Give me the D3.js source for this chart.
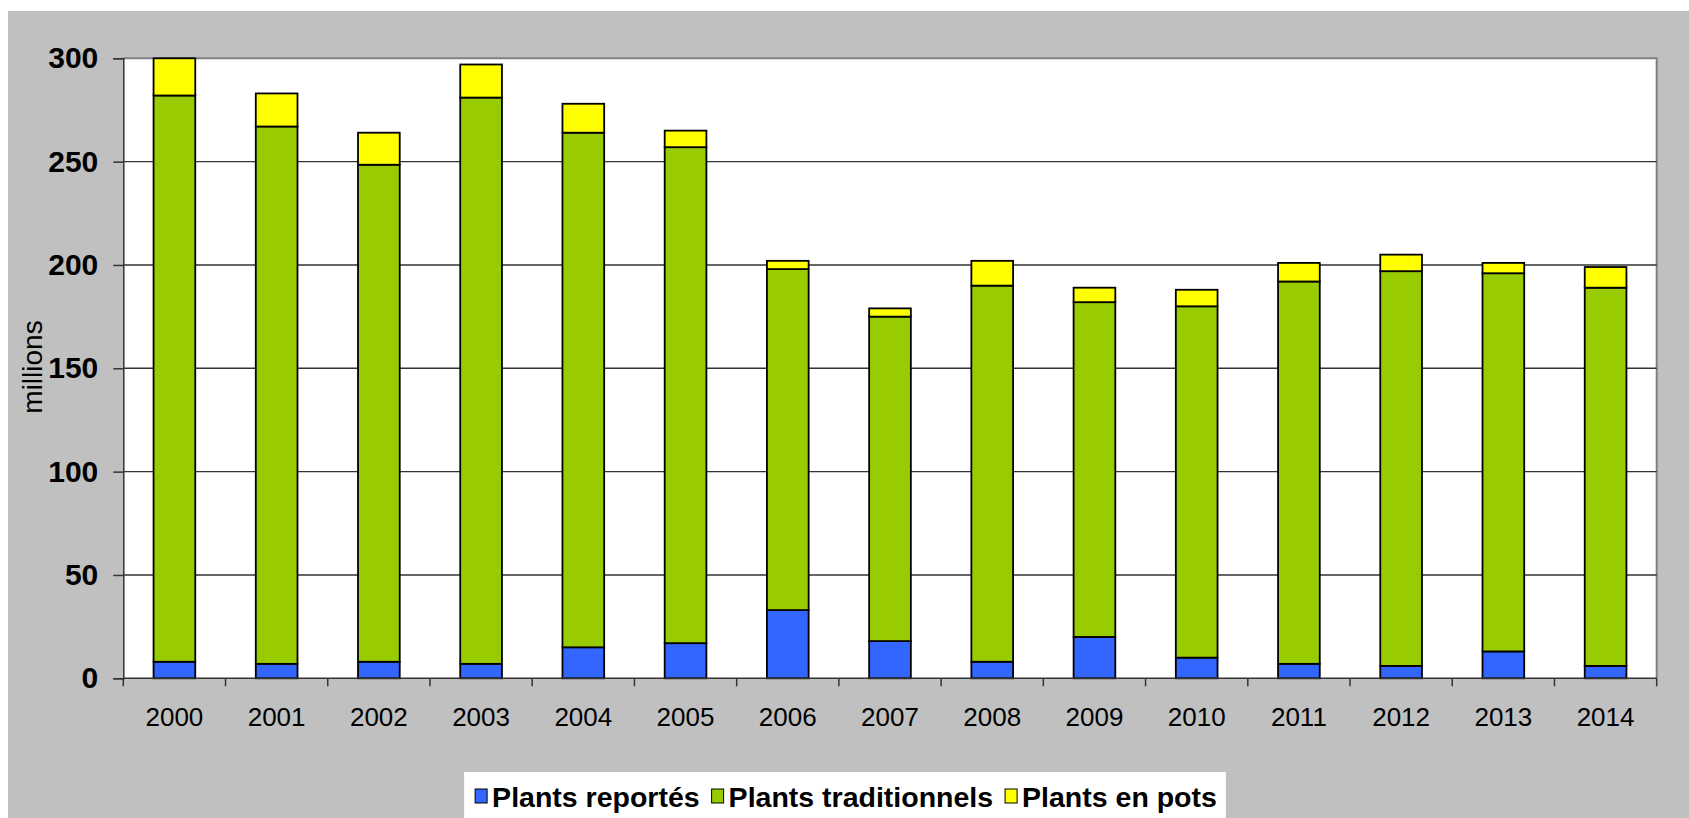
<!DOCTYPE html>
<html>
<head>
<meta charset="utf-8">
<script src="https://cdn.jsdelivr.net/npm/d3@7"></script>
<style>
  body { margin: 0; background: #fff; }
  svg { display: block; font-family: 'Liberation Sans', Arial, sans-serif; }
</style>
</head>
<body>
<svg class="chart"></svg>
<script>
const years = ['2000', '2001', '2002', '2003', '2004', '2005', '2006', '2007',
  '2008', '2009', '2010', '2011', '2012', '2013', '2014'];
const plantsReportes = [8, 7, 8, 7, 15, 17, 33, 18, 8, 20, 10, 7, 6, 13, 6];
const plantsTraditionnels = [274, 260, 240.5, 274, 249, 240, 165, 157, 182, 162, 170, 185, 191, 183, 183];
const plantsEnPots = [18, 16, 15.5, 16, 14, 8, 4, 4, 12, 7, 8, 9, 8, 5, 10];
const seriesNames = ['Plants reportés', 'Plants traditionnels', 'Plants en pots'];
const seriesColors = ['#3366ff', '#99cc00', '#ffff00'];
const yTicks = [0, 50, 100, 150, 200, 250, 300];
const yLabel = 'millions';

const startApp = () => {
  const viewBox = { width: 1689, height: 818 };
  const plot = { left: 123.3, top: 58.3, right: 1656.7, bottom: 678.3 };

  const rows = years.map((year, i) => ({
    year, s0: plantsReportes[i], s1: plantsTraditionnels[i], s2: plantsEnPots[i],
  }));
  const stacked = d3.stack().keys(['s0', 's1', 's2'])(rows);

  const xScale = d3.scaleBand()
    .domain(years)
    .range([plot.left, plot.right])
    .paddingInner(0.592)
    .paddingOuter(0.296);
  const yScale = d3.scaleLinear().domain([0, 300]).range([plot.bottom, plot.top]);

  const svg = d3.select('.chart')
    .attr('width', viewBox.width)
    .attr('height', viewBox.height);

  // grey chart area with the white plot inside
  svg.append('rect')
    .attr('x', 8).attr('y', 11)
    .attr('width', viewBox.width - 8).attr('height', viewBox.height - 11)
    .attr('fill', '#c0c0c0');
  svg.append('rect')
    .attr('x', plot.left).attr('y', plot.top)
    .attr('width', plot.right - plot.left).attr('height', plot.bottom - plot.top)
    .attr('fill', '#fff');
  svg.append('path')
    .attr('d', `M${plot.left},${plot.top}H${plot.right}V${plot.bottom}`)
    .attr('fill', 'none')
    .attr('stroke', '#808080')
    .attr('stroke-width', 2);

  // gridlines
  svg.append('g')
    .selectAll('line')
    .data(yTicks.filter(t => t > 0 && t < 300))
    .join('line')
    .attr('x1', plot.left).attr('x2', plot.right)
    .attr('y1', d => yScale(d)).attr('y2', d => yScale(d))
    .attr('stroke', '#333')
    .attr('stroke-width', 1.4);

  // y axis
  const yAxis = d3.axisLeft(yScale).tickValues(yTicks).tickSize(10).tickPadding(15);
  const yAxisG = svg.append('g')
    .attr('transform', `translate(${plot.left}, 0)`)
    .call(yAxis);
  yAxisG.select('.domain').attr('stroke', '#333').attr('stroke-width', 1.5);
  yAxisG.selectAll('.tick line').attr('stroke', '#333').attr('stroke-width', 1.5);
  yAxisG.selectAll('.tick text')
    .attr('font-family', "'Liberation Sans', Arial, sans-serif")
    .attr('font-size', 30)
    .attr('font-weight', 'bold')
    .attr('fill', '#000');

  // bars
  svg.append('g')
    .selectAll('g')
    .data(stacked)
    .join('g')
    .attr('fill', (d, i) => seriesColors[i])
    .selectAll('rect')
    .data(d => d)
    .join('rect')
    .attr('x', d => xScale(d.data.year))
    .attr('y', d => yScale(d[1]))
    .attr('width', xScale.bandwidth())
    .attr('height', d => yScale(d[0]) - yScale(d[1]))
    .attr('stroke', '#000')
    .attr('stroke-width', 1.8);

  // x axis: ticks on category boundaries
  const xAxisG = svg.append('g');
  xAxisG.append('line')
    .attr('x1', plot.left).attr('x2', plot.right)
    .attr('y1', plot.bottom).attr('y2', plot.bottom)
    .attr('stroke', '#333').attr('stroke-width', 1.5);
  const step = xScale.step();
  xAxisG.selectAll('.boundary')
    .data(d3.range(years.length + 1))
    .join('line')
    .attr('class', 'boundary')
    .attr('x1', i => plot.left + i * step).attr('x2', i => plot.left + i * step)
    .attr('y1', plot.bottom).attr('y2', plot.bottom + 8)
    .attr('stroke', '#333').attr('stroke-width', 1.5);
  xAxisG.selectAll('text')
    .data(years)
    .join('text')
    .attr('x', d => xScale(d) + xScale.bandwidth() / 2)
    .attr('y', 726)
    .attr('text-anchor', 'middle')
    .attr('font-size', 26)
    .text(d => d);

  svg.append('text')
    .attr('transform', `translate(42, 367) rotate(-90)`)
    .attr('text-anchor', 'middle')
    .attr('font-size', 28)
    .text(yLabel);

  // legend
  const legend = svg.append('g');
  const legendBox = legend.append('rect')
    .attr('fill', '#fff');
  const items = legend.selectAll('g')
    .data(seriesNames)
    .join('g');
  items.append('rect')
    .attr('width', 12).attr('height', 14)
    .attr('y', 789)
    .attr('fill', (d, i) => seriesColors[i])
    .attr('stroke', '#000')
    .attr('stroke-width', 1);
  items.append('text')
    .attr('x', 17)
    .attr('y', 807)
    .attr('font-size', 28.5)
    .attr('font-weight', 'bold')
    .text(d => d);

  let cursor = 0;
  items.each(function () {
    const item = d3.select(this);
    item.attr('transform', `translate(${cursor}, 0)`);
    cursor += 17 + item.select('text').node().getComputedTextLength() + 12;
  });
  const contentWidth = cursor - 12;
  const boxWidth = contentWidth + 20;
  const boxLeft = 845 - boxWidth / 2;
  legend.selectAll('g').each(function () {
    const item = d3.select(this);
    const shift = +item.attr('transform').match(/translate\(([-\d.]+)/)[1];
    item.attr('transform', `translate(${boxLeft + 11 + shift}, 0)`);
  });
  legendBox
    .attr('x', boxLeft).attr('y', 772)
    .attr('width', boxWidth).attr('height', 60);
};

window.onload = startApp;
</script>
</body>
</html>
